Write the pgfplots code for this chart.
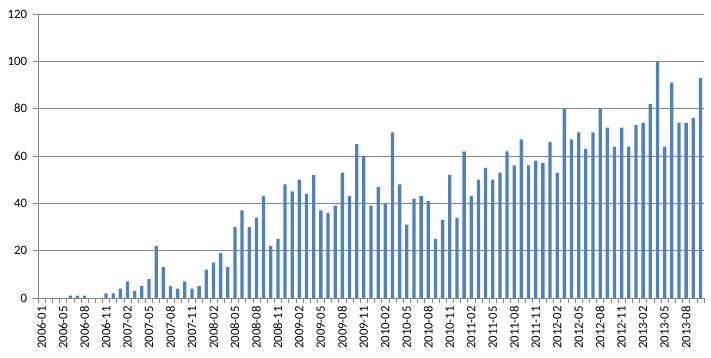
\documentclass[border=0pt]{standalone}
\usepackage{fontspec}
\setmainfont{Carlito}
\usepackage{pgfplots}
\pgfplotsset{compat=1.18}
\definecolor{barblue}{HTML}{4F81BD}
\definecolor{gridgray}{HTML}{868686}
\begin{document}
\begin{tikzpicture}
\useasboundingbox (-38bp,-60bp) rectangle (673bp,298bp);
\begin{axis}[
  at={(0,0)}, anchor=south west,
  scale only axis, width=666bp, height=284bp,
  xmin=-0.5, xmax=92.5, ymin=0, ymax=120,
  axis lines*=left,
  axis line style={gridgray},
  ytick={0,20,...,120},
  ymajorgrids, grid style={gridgray, line width=0.6pt},
  tick style={gridgray, line width=0.6pt},
  tick align=outside,
  major tick length=4.5bp,
  xtick={-0.5,0.5,...,92.6},
  xticklabels={},
  extra x ticks={0,3,...,90},
  extra x tick labels={2006-01,2006-05,2006-08,2006-11,2007-02,2007-05,2007-08,2007-11,2008-02,2008-05,2008-08,2008-11,2009-02,2009-05,2009-08,2009-11,2010-02,2010-05,2010-08,2010-11,2011-02,2011-05,2011-08,2011-11,2012-02,2012-05,2012-08,2012-11,2013-02,2013-05,2013-08},
  extra x tick style={major tick length=0pt, grid=none},
  xticklabel style={yshift=-7bp, rotate=90, anchor=east, font=\fontsize{12.8}{14}\selectfont, inner sep=1bp},
  yticklabel style={font=\fontsize{12.8}{14}\selectfont, xshift=-3bp},
  /pgf/number format/assume math mode=true,
  ybar, bar width=3.3bp,
]
\addplot[fill=barblue, draw=none, bar shift=0pt] coordinates {
(0,0)(1,0)(2,0)(3,0)(4,1)(5,1)(6,1)(7,0)(8,0)(9,2)(10,2)(11,4)(12,7)(13,3)(14,5)(15,8)(16,22)(17,13)(18,5)(19,4)(20,7)(21,4)(22,5)(23,12)(24,15)(25,19)(26,13)(27,30)(28,37)(29,30)(30,34)(31,43)(32,22)(33,25)(34,48)(35,45)(36,50)(37,44)(38,52)(39,37)(40,36)(41,39)(42,53)(43,43)(44,65)(45,60)(46,39)(47,47)(48,40)(49,70)(50,48)(51,31)(52,42)(53,43)(54,41)(55,25)(56,33)(57,52)(58,34)(59,62)(60,43)(61,50)(62,55)(63,50)(64,53)(65,62)(66,56)(67,67)(68,56)(69,58)(70,57)(71,66)(72,53)(73,80)(74,67)(75,70)(76,63)(77,70)(78,80)(79,72)(80,64)(81,72)(82,64)(83,73)(84,74)(85,82)(86,100)(87,64)(88,91)(89,74)(90,74)(91,76)(92,93)
};
\end{axis}
\end{tikzpicture}
\end{document}
